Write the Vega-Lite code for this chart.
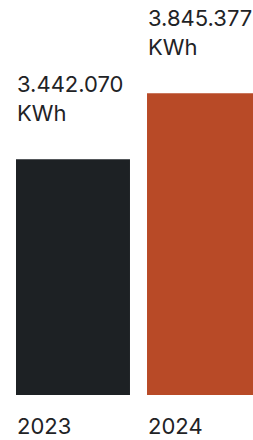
{
  "$schema": "https://vega.github.io/schema/vega-lite/v6.json",
  "autosize": "none",
  "width": 245,
  "height": 327,
  "padding": {"left": 16, "top": 68, "right": 0, "bottom": 45},
  "background": "white",
  "config": {"view": {"stroke": null}, "font": "Inter"},
  "data": {
    "values": [
      {"year": "2023", "value": 3442070, "label": "3.442.070\nKWh"},
      {"year": "2024", "value": 3845377, "label": "3.845.377\nKWh"}
    ]
  },
  "encoding": {
    "x": {
      "field": "year",
      "type": "nominal",
      "scale": {"paddingInner": 0.13, "paddingOuter": 0},
      "axis": {
        "title": null,
        "labelAngle": 0,
        "domain": false,
        "ticks": false,
        "tickSize": 0,
        "labelAlign": "left",
        "labelOffset": -56,
        "labelBaseline": "alphabetic",
        "labelPadding": 38,
        "labelFont": "Inter",
        "labelFontSize": 22,
        "labelColor": "#1f2326"
      }
    },
    "y": {
      "field": "value",
      "type": "quantitative",
      "scale": {"domain": [2000000, 4000000], "zero": false, "nice": false},
      "axis": null
    }
  },
  "layer": [
    {
      "mark": {"type": "bar"},
      "encoding": {
        "y2": {"datum": 2000000},
        "color": {
          "field": "year",
          "type": "nominal",
          "scale": {"range": ["#1d2124", "#b84a27"]},
          "legend": null
        }
      }
    },
    {
      "mark": {
        "type": "text",
        "align": "left",
        "baseline": "alphabetic",
        "lineBreak": "\n",
        "lineHeight": 29,
        "font": "Inter",
        "fontSize": 22,
        "color": "#1f2326",
        "xOffset": 1,
        "dy": -67
      },
      "encoding": {
        "x": {"field": "year", "type": "nominal", "bandPosition": 0},
        "text": {"field": "label"}
      }
    }
  ]
}
